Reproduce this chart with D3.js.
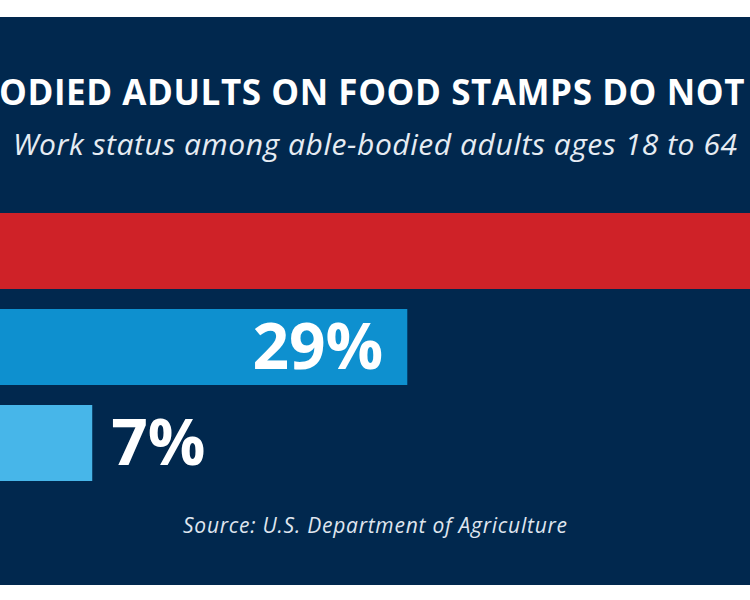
<!DOCTYPE html>
<html>
<head>
<meta charset="utf-8">
<script src="https://cdnjs.cloudflare.com/ajax/libs/d3/7.8.5/d3.min.js"></script>
<style>
  html, body { margin: 0; padding: 0; background: #fff; }
  svg { display: block; font-family: "Open Sans", sans-serif; }
</style>
</head>
<body>
<svg id="chart" width="750" height="600"></svg>
<script>
// chart data
var categories = ['Not working', 'Working part time', 'Working full time'];
var values = [64, 29, 7];
var labels = ['64%', '29%', '7%'];
var colors = ['#cf2228', '#0e90cf', '#47b6e9'];

var title = 'MOST ABLE-BODIED ADULTS ON FOOD STAMPS DO NOT WORK';
var subtitle = 'Work status among able-bodied adults ages 18 to 64';
var source = 'Source: U.S. Department of Agriculture';

var width = 750, height = 600;
var svg = d3.select('#chart');

// navy panel
svg.append('rect')
    .attr('x', 0).attr('y', 17)
    .attr('width', width).attr('height', 568)
    .attr('fill', '#01284e');

// title (the picture is cropped, the visible part runs "ODIED ... NOT")
var t = svg.append('text')
    .attr('y', 105)
    .attr('fill', '#fff')
    .attr('font-size', 35)
    .attr('font-weight', 700)
    .text(title);
var node = t.node();
var start = title.indexOf('ODIED'),
    stop = title.indexOf('NOT') + 3;
var visW = node.getSubStringLength(start, stop - start),
    ls = (746 - visW) / (stop - start);
var offset = node.getSubStringLength(0, start) + start * ls;
t.attr('letter-spacing', ls).attr('x', -1 - offset);

svg.append('text')
    .attr('x', 13).attr('y', 155)
    .attr('fill', '#e6ecf3')
    .attr('font-size', 30)
    .attr('font-style', 'italic')
    .attr('textLength', 724)
    .attr('lengthAdjust', 'spacing')
    .text(subtitle);

// scales
var x = d3.scaleLinear().domain([0, 100]).range([-8, 1424]);
var y = d3.scaleBand().domain(categories).range([213, 481]).paddingInner(20 / 96);

var bars = svg.selectAll('g.bar')
    .data(categories)
    .enter()
    .append('g')
    .attr('class', 'bar');

bars.append('rect')
    .attr('x', x(0))
    .attr('y', function (d) { return y(d); })
    .attr('width', function (d, i) { return x(values[i]) - x(0); })
    .attr('height', y.bandwidth())
    .attr('fill', function (d, i) { return colors[i]; });

// labels: inside the bar when it is wide enough, otherwise after it
// (the label of the widest bar falls outside the cropped picture)
bars.filter(function (d, i) { return x(values[i]) < width; })
    .append('text')
    .attr('x', function (d) {
        var v = values[categories.indexOf(d)];
        return v > 15 ? x(v) - 24 : x(v) + 19;
    })
    .attr('y', function (d) { return y(d) + y.bandwidth() / 2; })
    .attr('dy', '0.35em')
    .attr('text-anchor', function (d) {
        return values[categories.indexOf(d)] > 15 ? 'end' : 'start';
    })
    .attr('fill', '#fff')
    .attr('font-size', 64)
    .attr('font-weight', 700)
    .text(function (d) { return labels[categories.indexOf(d)]; });

svg.append('text')
    .attr('x', 183).attr('y', 533)
    .attr('fill', '#dfe5ee')
    .attr('font-size', 21)
    .attr('font-style', 'italic')
    .attr('textLength', 384)
    .attr('lengthAdjust', 'spacing')
    .text(source);
</script>
</body>
</html>
